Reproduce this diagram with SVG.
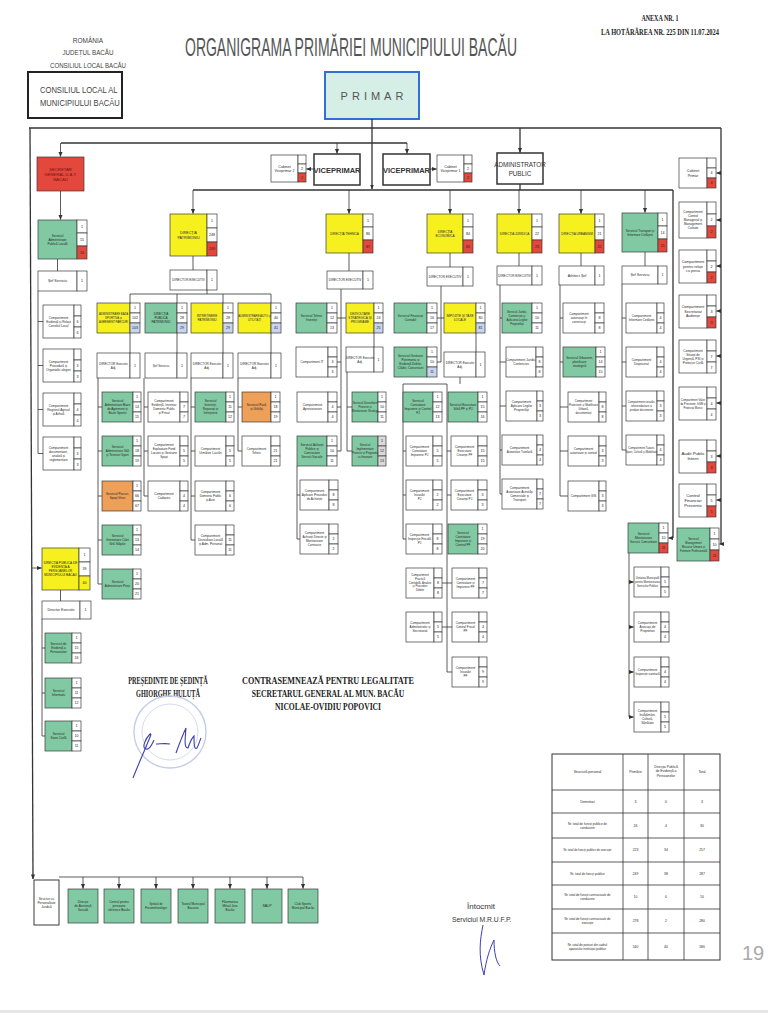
<svg xmlns="http://www.w3.org/2000/svg" width="768" height="1024" viewBox="0 0 768 1024">
<defs>
<marker id="a" viewBox="0 0 10 10" refX="9" refY="5" markerWidth="5" markerHeight="5" markerUnits="userSpaceOnUse" orient="auto"><path d="M0 1L10 5L0 9z" fill="#333"/></marker>
</defs>
<style>
.b{fill:#fff;stroke:#3a3a3a;stroke-width:.7}
.g{fill:#80c9a2;stroke:#3a3a3a;stroke-width:.7}
.y{fill:#f6f01f;stroke:#3a3a3a;stroke-width:.7}
.r{fill:#e4473c;stroke:#3a3a3a;stroke-width:.7}
.o{fill:#ee9f58;stroke:#3a3a3a;stroke-width:.7}
.lb{fill:#c8d5f1;stroke:#3a3a3a;stroke-width:.7}
.gr{fill:#d9d9d9;stroke:#3a3a3a;stroke-width:.7}
.t{font-family:"Liberation Sans",Arial,sans-serif;font-size:3.1px;fill:#2a2a2a;text-anchor:middle}
.t2{font-family:"Liberation Sans",Arial,sans-serif;font-size:3.6px;fill:#2a2a2a;text-anchor:middle}
.n{font-family:"Liberation Sans",Arial,sans-serif;font-size:3.6px;fill:#222;text-anchor:middle}
.c{fill:none;stroke:#333;stroke-width:.8}
.ca{fill:none;stroke:#333;stroke-width:.8;marker-end:url(#a)}
.k{fill:none;stroke:#333;stroke-width:1.3}
.ka{fill:none;stroke:#333;stroke-width:1.3;marker-end:url(#a)}
.hd{font-family:"Liberation Sans",Arial,sans-serif;fill:#444;text-anchor:middle}
.sf{font-family:"Liberation Serif","Times New Roman",serif;font-weight:bold;fill:#222;text-anchor:middle}
.bx{fill:#fff;stroke:#333;stroke-width:1.5}
</style>
<rect width="768" height="1024" fill="#fff"/>

<!-- header -->
<g id="header">
<text class="hd" x="88" y="43" font-size="6.5">ROMÂNIA</text>
<text class="hd" x="88" y="55" font-size="6.5" textLength="51" lengthAdjust="spacingAndGlyphs">JUDEȚUL BACĂU</text>
<text class="hd" x="88" y="68" font-size="6.5" textLength="76" lengthAdjust="spacingAndGlyphs">CONSILIUL LOCAL BACĂU</text>
<text transform="translate(185 56) scale(0.56 1)" x="0" y="0" font-family="Liberation Sans, Arial, sans-serif" font-size="25" fill="#555">ORGANIGRAMA PRIMĂRIEI MUNICIPIULUI BACĂU</text>
<text transform="translate(660 21) scale(0.8 1)" x="0" y="0" class="sf" font-size="7.5">ANEXA NR. 1</text>
<text transform="translate(660 35) scale(0.85 1)" x="0" y="0" class="sf" font-size="7.5">LA HOTĂRÂREA NR. 225 DIN 11.07.2024</text>
</g>

<g id="consiliul-local">
<rect x="28" y="72" width="94" height="46" fill="#fff" stroke="#222" stroke-width="2"/>
<text transform="translate(40 93) scale(0.8 1)" x="0" y="0" font-family="Liberation Sans, Arial, sans-serif" font-size="9.5" fill="#444">CONSILIUL LOCAL AL</text>
<text transform="translate(40 106) scale(0.8 1)" x="0" y="0" font-family="Liberation Sans, Arial, sans-serif" font-size="9.5" fill="#444">MUNICIPIULUI BACĂU</text>
</g>

<g id="primar">
<rect x="325" y="72" width="94" height="47" fill="#d5eee6" stroke="#2f6fd6" stroke-width="2"/>
<text x="374" y="100" font-family="Liberation Sans, Arial, sans-serif" font-size="11" fill="#555" text-anchor="middle" letter-spacing="4">PRIMAR</text>
</g>

<!-- connectors -->
<g id="connectors">
<path class="k" d="M29 128H721"/>
<path class="k" d="M372 119V128"/>
<path class="ka" d="M372 128V189"/>
<path class="ka" d="M30 128L33 879"/>
<path class="ca" d="M31.5 568H41.5"/>
<path class="k" d="M721 128V544"/>
<path class="ca" d="M721 173H716.5"/>
<path class="ca" d="M721 220H716.5"/>
<path class="ca" d="M721 266H716.5"/>
<path class="ca" d="M721 311H716.5"/>
<path class="ca" d="M721 356H716.5"/>
<path class="ca" d="M721 403H716.5"/>
<path class="ca" d="M721 456H716.5"/>
<path class="ca" d="M721 500H716.5"/>
<path class="ca" d="M721 544H719.5"/>
<path class="k" d="M61 143H407"/>
<path class="ca" d="M60.5 143V156.5"/>
<path class="ca" d="M337 143V153.5"/>
<path class="ca" d="M407 143V153.5"/>
<path class="ka" d="M520 128V152.5"/>
<path class="k" d="M193 190H673"/>
<path class="k" d="M520 184V190"/>
<path class="ca" d="M193 190V213.5"/>
<path class="ca" d="M349 190V213.5"/>
<path class="ca" d="M450 190V213.5"/>
<path class="ca" d="M519 190V213.5"/>
<path class="ca" d="M581 190V213.5"/>
<path class="ca" d="M645 190V212.5"/>
<path class="k" d="M673 190V538"/>
<path class="ca" d="M673 538H668.5"/>
<path class="ca" d="M314 169H306.5"/>
<path class="ca" d="M430 169H436.5"/>
<path class="ca" d="M60.5 191V219.5"/>
<path class="c" d="M57.5 259V271M38 291V453.5M38 321.5H43M38 365.5H43M38 409.5H43M38 453.5H43"/>
<path class="c" d="M60.5 590V601M42 619V736M42 648H45M42 693H45M42 736H45"/>
<path class="c" d="M193 256V270M207 290V294M130 294H271M130 294V303M177 294V303M223 294V303M271 294V303M130 333V353M177 333V353M223 333V353M271 333V353"/>
<path class="c" d="M98 378V584M98 407H102M98 451H102M98 496H102M98 540H102M98 584H102M144 378V496M144 407H148M144 451H148M144 496H148M191 378V540M191 407H195M191 451H195M191 496H195M191 540H195M238 378V451M238 407H242M238 451H242"/>
<path class="c" d="M349 253V271M341 289V451M337 318H346M337 362H341M337 407H341M337 451H341M374 333V347M347 372V451M347 407H352M347 451H352M297 466V539M297 495H300M297 539H300"/>
<path class="c" d="M450 253V267M441 286V362M437 318H444M437 362H441M476 333V352M460 377V384M403 384H447M403 384V539M403 451H406M403 495H406M403 539H406M447 384V672M447 451H451M447 495H451M447 583H452M447 627H452M447 672H452M442 583H447M442 627H447"/>
<path class="c" d="M519 253V266M500 285V494M500 318H502M500 362H506M500 406H506M500 450H502M500 494H502"/>
<path class="c" d="M581 253V266M560 285V496M560 318H563M560 362H563M560 407H568M560 451H568M560 496H568"/>
<path class="c" d="M645 252V266M622 284V450M622 318H626M622 362H626M622 406H626M622 450H626"/>
<path class="c" d="M629 553V717"/>
<path class="ca" d="M629 582H633.5"/>
<path class="ca" d="M629 627H633.5"/>
<path class="ca" d="M629 672H633.5"/>
<path class="ca" d="M629 717H633.5"/>
<path class="c" d="M59 877H303"/>
<path class="ca" d="M83 877V888.5"/>
<path class="ca" d="M119 877V888.5"/>
<path class="ca" d="M156 877V888.5"/>
<path class="ca" d="M193 877V888.5"/>
<path class="ca" d="M230 877V888.5"/>
<path class="ca" d="M267 877V888.5"/>
<path class="ca" d="M303 877V888.5"/>
</g>

<!-- top row -->
<g id="cabinet-viceprimar-2"><rect class="b" x="271" y="155" width="27" height="27"/><rect class="b" x="298" y="155" width="8" height="9"/><rect class="b" x="298" y="164" width="8" height="9"/><rect class="r" x="298" y="173" width="8" height="9"/><text class="t2" x="284.5" y="167.5">Cabinet<tspan x="284.5" dy="4.2">Viceprimar 2</tspan></text><text class="n" x="302" y="169.8">2</text><text class="n" x="302" y="178.8">2</text></g>
<g id="viceprimar-1"><rect class="bx" x="314" y="154" width="46" height="31"/><text x="337" y="172.5" font-family="Liberation Sans, Arial, sans-serif" font-size="7.5" font-weight="bold" fill="#333" text-anchor="middle">VICEPRIMAR</text></g>
<g id="viceprimar-2"><rect class="bx" x="383" y="154" width="47" height="31"/><text x="406.5" y="172.5" font-family="Liberation Sans, Arial, sans-serif" font-size="7.5" font-weight="bold" fill="#333" text-anchor="middle">VICEPRIMAR</text></g>
<g id="cabinet-viceprimar-1"><rect class="b" x="437" y="155" width="27" height="27"/><rect class="b" x="464" y="155" width="8" height="9"/><rect class="b" x="464" y="164" width="8" height="9"/><rect class="r" x="464" y="173" width="8" height="9"/><text class="t2" x="450.5" y="167.5">Cabinet<tspan x="450.5" dy="4.2">Viceprimar 1</tspan></text><text class="n" x="468" y="169.8">2</text><text class="n" x="468" y="178.8">2</text></g>
<g id="administrator-public"><rect class="bx" x="497" y="153" width="46" height="31"/><text x="520" y="166.5" font-family="Liberation Sans, Arial, sans-serif" font-size="6.3" fill="#333" text-anchor="middle">ADMINISTRATOR<tspan x="520" dy="9">PUBLIC</tspan></text></g>

<!-- Secretar general -->
<g id="secretar-general"><rect class="r" x="37" y="157" width="47" height="34"/><text class="t" style="font-size:4.2px;fill:#701515" x="60.5" y="170.5">SECRETAR<tspan x="60.5" dy="5">GENERAL U.A.T.</tspan><tspan x="60.5" dy="5">BACĂU</tspan></text></g>
<g id="serv-adm-publica-locala"><rect class="g" x="38" y="220" width="39" height="39"/><rect class="b" x="77" y="220" width="10" height="13"/><rect class="b" x="77" y="233" width="10" height="13"/><rect class="r" x="77" y="246" width="10" height="13"/><text class="t" x="57.5" y="236.7">Serviciul<tspan x="57.5" dy="4">Administrație</tspan><tspan x="57.5" dy="4">Publică Locală</tspan></text><text class="n" x="82" y="227.8">1</text><text class="n" x="82" y="240.8">15</text><text class="n" x="82" y="253.8">16</text></g>
<g id="sef-serviciu-sapl"><rect class="b" x="38" y="271" width="39" height="20"/><rect class="b" x="77" y="271" width="10" height="20"/><text class="t2" x="57.5" y="282.2">Șef Serviciu</text><text class="n" x="82" y="282.3">1</text></g>
<g id="comp-evidenta-relatii"><rect class="b" x="43" y="305" width="31" height="33"/><rect class="b" x="74" y="305" width="7" height="11"/><rect class="b" x="74" y="316" width="7" height="11"/><rect class="b" x="74" y="327" width="7" height="11"/><text class="t" x="58.5" y="318.7">Compartiment<tspan x="58.5" dy="4">Evidență și Relații</tspan><tspan x="58.5" dy="4">Consiliul Local</tspan></text><text class="n" x="77.5" y="322.8">6</text><text class="n" x="77.5" y="333.8">6</text></g>
<g id="comp-procedura-alegeri"><rect class="b" x="43" y="349" width="31" height="33"/><rect class="b" x="74" y="349" width="7" height="11"/><rect class="b" x="74" y="360" width="7" height="11"/><rect class="b" x="74" y="371" width="7" height="11"/><text class="t" x="58.5" y="362.7">Compartiment<tspan x="58.5" dy="4">Procedură și</tspan><tspan x="58.5" dy="4">Organizări alegeri</tspan></text><text class="n" x="77.5" y="366.8">3</text><text class="n" x="77.5" y="377.8">3</text></g>
<g id="comp-registrul-agricol"><rect class="b" x="43" y="393" width="31" height="33"/><rect class="b" x="74" y="393" width="7" height="11"/><rect class="b" x="74" y="404" width="7" height="11"/><rect class="b" x="74" y="415" width="7" height="11"/><text class="t" x="58.5" y="406.7">Compartiment<tspan x="58.5" dy="4">Registrul Agricol</tspan><tspan x="58.5" dy="4">și Arhivă</tspan></text><text class="n" x="77.5" y="410.8">4</text><text class="n" x="77.5" y="421.8">4</text></g>
<g id="comp-documentare"><rect class="b" x="43" y="437" width="31" height="33"/><rect class="b" x="74" y="437" width="7" height="11"/><rect class="b" x="74" y="448" width="7" height="11"/><rect class="b" x="74" y="459" width="7" height="11"/><text class="t" x="58.5" y="448.7">Compartiment<tspan x="58.5" dy="4">documentare,</tspan><tspan x="58.5" dy="4">analiză și</tspan><tspan x="58.5" dy="4">reglementare</tspan></text><text class="n" x="77.5" y="454.8">3</text><text class="n" x="77.5" y="465.8">3</text></g>

<!-- DPEP -->
<g id="directia-evidenta-persoane"><rect class="y" x="42" y="548" width="37" height="42"/><rect class="b" x="79" y="548" width="11" height="14"/><rect class="b" x="79" y="562" width="11" height="14"/><rect class="y" x="79" y="576" width="11" height="14"/><text class="t" x="60.5" y="564.2">DIRECȚIA PUBLICĂ DE<tspan x="60.5" dy="4">EVIDENȚĂ A</tspan><tspan x="60.5" dy="4">PERSOANELOR</tspan><tspan x="60.5" dy="4">MUNICIPIULUI BACĂU</tspan></text><text class="n" x="84.5" y="556.3">1</text><text class="n" x="84.5" y="570.3">39</text><text class="n" x="84.5" y="584.3">40</text></g>
<g id="director-executiv-dpep"><rect class="b" x="42" y="601" width="38" height="18"/><rect class="b" x="80" y="601" width="11" height="18"/><text class="t2" x="61" y="611.2">Director Executiv</text><text class="n" x="85.5" y="611.3">1</text></g>
<g id="serv-evidenta-persoane"><rect class="g" x="45" y="633" width="27" height="30"/><rect class="b" x="72" y="633" width="9" height="10"/><rect class="b" x="72" y="643" width="9" height="10"/><rect class="b" x="72" y="653" width="9" height="10"/><text class="t" x="58.5" y="645.2">Serviciul de<tspan x="58.5" dy="4">Evidență a</tspan><tspan x="58.5" dy="4">Persoanelor</tspan></text><text class="n" x="76.5" y="639.3">1</text><text class="n" x="76.5" y="649.3">15</text><text class="n" x="76.5" y="659.3">16</text></g>
<g id="serv-informatic"><rect class="g" x="45" y="678" width="27" height="30"/><rect class="b" x="72" y="678" width="9" height="10"/><rect class="b" x="72" y="688" width="9" height="10"/><rect class="b" x="72" y="698" width="9" height="10"/><text class="t" x="58.5" y="692.2">Serviciul<tspan x="58.5" dy="4">Informatic</tspan></text><text class="n" x="76.5" y="684.3">1</text><text class="n" x="76.5" y="694.3">11</text><text class="n" x="76.5" y="704.3">12</text></g>
<g id="serv-stare-civila"><rect class="g" x="45" y="721" width="27" height="30"/><rect class="b" x="72" y="721" width="9" height="10"/><rect class="b" x="72" y="731" width="9" height="10"/><rect class="b" x="72" y="741" width="9" height="10"/><text class="t" x="58.5" y="735.2">Serviciul<tspan x="58.5" dy="4">Stare Civilă</tspan></text><text class="n" x="76.5" y="727.3">1</text><text class="n" x="76.5" y="737.3">10</text><text class="n" x="76.5" y="747.3">11</text></g>

<!-- Patrimoniu -->
<g id="directia-patrimoniu"><rect class="y" x="170" y="214" width="37" height="42"/><rect class="b" x="207" y="214" width="10" height="14"/><rect class="b" x="207" y="228" width="10" height="14"/><rect class="r" x="207" y="242" width="10" height="14"/><text class="t2" x="188.5" y="234">DIRECȚIA<tspan x="188.5" dy="4.5">PATRIMONIU</tspan></text><text class="n" x="212" y="222.3">1</text><text class="n" x="212" y="236.3">248</text><text class="n" x="212" y="250.3">249</text></g>
<g id="director-executiv-patrimoniu"><rect class="b" x="170" y="270" width="37" height="20"/><rect class="b" x="207" y="270" width="10" height="20"/><text class="t" x="188.5" y="281.2">DIRECTOR EXECUTIV</text><text class="n" x="212" y="281.3">1</text></g>
<g id="adm-baza-sportiva"><rect class="y" x="97" y="303" width="33" height="30"/><rect class="b" x="130" y="303" width="10" height="10"/><rect class="b" x="130" y="313" width="10" height="10"/><rect class="lb" x="130" y="323" width="10" height="10"/><text class="t" style="font-size:2.8px" x="113.5" y="315.2">ADMINISTRARE BAZĂ<tspan x="113.5" dy="4">SPORTIVĂ și</tspan><tspan x="113.5" dy="4">AGREMENT PARCURI</tspan></text><text class="n" x="135" y="309.3">1</text><text class="n" x="135" y="319.3">102</text><text class="n" x="135" y="329.3">103</text></g>
<g id="directia-publica-patrimoniu"><rect class="g" x="145" y="303" width="32" height="30"/><rect class="b" x="177" y="303" width="10" height="10"/><rect class="b" x="177" y="313" width="10" height="10"/><rect class="lb" x="177" y="323" width="10" height="10"/><text class="t" x="161" y="315.2">DIRECȚIA<tspan x="161" dy="4">PUBLICĂ</tspan><tspan x="161" dy="4">PATRIMONIU</tspan></text><text class="n" x="182" y="309.3">1</text><text class="n" x="182" y="319.3">28</text><text class="n" x="182" y="329.3">29</text></g>
<g id="intretinere-patrimoniu"><rect class="y" x="191" y="303" width="32" height="30"/><rect class="b" x="223" y="303" width="10" height="10"/><rect class="b" x="223" y="313" width="10" height="10"/><rect class="lb" x="223" y="323" width="10" height="10"/><text class="t" x="207" y="317.2">ÎNTREȚINERE<tspan x="207" dy="4">PATRIMONIU</tspan></text><text class="n" x="228" y="309.3">1</text><text class="n" x="228" y="319.3">28</text><text class="n" x="228" y="329.3">29</text></g>
<g id="administrare-auto-utilitati"><rect class="y" x="238" y="303" width="33" height="30"/><rect class="b" x="271" y="303" width="10" height="10"/><rect class="b" x="271" y="313" width="10" height="10"/><rect class="lb" x="271" y="323" width="10" height="10"/><text class="t" style="font-size:2.8px" x="254.5" y="317.2">ADMINISTRARE AUTO și<tspan x="254.5" dy="4">UTILITĂȚI</tspan></text><text class="n" x="276" y="309.3">1</text><text class="n" x="276" y="319.3">40</text><text class="n" x="276" y="329.3">41</text></g>
<g id="dir-adj-baza-sportiva"><rect class="b" x="97" y="353" width="33" height="25"/><rect class="b" x="130" y="353" width="10" height="25"/><text class="t" x="113.5" y="364.7">DIRECTOR Executiv<tspan x="113.5" dy="4">Adj.</tspan></text><text class="n" x="135" y="366.8">1</text></g>
<g id="sef-serviciu-patrimoniu"><rect class="b" x="145" y="353" width="32" height="25"/><rect class="b" x="177" y="353" width="10" height="25"/><text class="t" x="161" y="366.7">Șef Serviciu</text><text class="n" x="182" y="366.8">1</text></g>
<g id="dir-adj-intretinere"><rect class="b" x="191" y="353" width="32" height="25"/><rect class="b" x="223" y="353" width="10" height="25"/><text class="t" x="207" y="364.7">DIRECTOR Executiv<tspan x="207" dy="4">Adj.</tspan></text><text class="n" x="228" y="366.8">1</text></g>
<g id="dir-adj-auto"><rect class="b" x="238" y="353" width="33" height="25"/><rect class="b" x="271" y="353" width="10" height="25"/><text class="t" x="254.5" y="364.7">DIRECTOR Executiv<tspan x="254.5" dy="4">Adj.</tspan></text><text class="n" x="276" y="366.8">1</text></g>

<g id="serv-baze-agrement"><rect class="g" x="102" y="392" width="31" height="30"/><rect class="b" x="133" y="392" width="8" height="10"/><rect class="b" x="133" y="402" width="8" height="10"/><rect class="b" x="133" y="412" width="8" height="10"/><text class="t" x="117.5" y="402.2">Serviciul<tspan x="117.5" dy="4">Administrare Baze</tspan><tspan x="117.5" dy="4">de Agrement și</tspan><tspan x="117.5" dy="4">Bazin Sportiv</tspan></text><text class="n" x="137" y="398.3">1</text><text class="n" x="137" y="408.3">14</text><text class="n" x="137" y="418.3">15</text></g>
<g id="serv-sali-terenuri"><rect class="g" x="102" y="436" width="31" height="30"/><rect class="b" x="133" y="436" width="8" height="10"/><rect class="b" x="133" y="446" width="8" height="10"/><rect class="b" x="133" y="456" width="8" height="10"/><text class="t" x="117.5" y="448.2">Serviciul<tspan x="117.5" dy="4">Administrare Săli</tspan><tspan x="117.5" dy="4">și Terenuri Sport</tspan></text><text class="n" x="137" y="442.3">1</text><text class="n" x="137" y="452.3">18</text><text class="n" x="137" y="462.3">19</text></g>
<g id="serv-parcuri"><rect class="o" x="102" y="481" width="31" height="30"/><rect class="b" x="133" y="481" width="8" height="10"/><rect class="b" x="133" y="491" width="8" height="10"/><rect class="b" x="133" y="501" width="8" height="10"/><text class="t" x="117.5" y="495.2">Serviciul Parcuri,<tspan x="117.5" dy="4">Spații Verzi</tspan></text><text class="n" x="137" y="487.3">1</text><text class="n" x="137" y="497.3">66</text><text class="n" x="137" y="507.3">67</text></g>
<g id="serv-caini"><rect class="g" x="102" y="525" width="31" height="30"/><rect class="b" x="133" y="525" width="8" height="10"/><rect class="b" x="133" y="535" width="8" height="10"/><rect class="b" x="133" y="545" width="8" height="10"/><text class="t" x="117.5" y="537.2">Serviciul<tspan x="117.5" dy="4">Gestionare Câini</tspan><tspan x="117.5" dy="4">fără Stăpân</tspan></text><text class="n" x="137" y="531.3">1</text><text class="n" x="137" y="541.3">13</text><text class="n" x="137" y="551.3">14</text></g>
<g id="serv-piete"><rect class="g" x="102" y="569" width="31" height="30"/><rect class="b" x="133" y="569" width="8" height="10"/><rect class="b" x="133" y="579" width="8" height="10"/><rect class="b" x="133" y="589" width="8" height="10"/><text class="t" x="117.5" y="583.2">Serviciul<tspan x="117.5" dy="4">Administrare Piețe</tspan></text><text class="n" x="137" y="575.3">1</text><text class="n" x="137" y="585.3">20</text><text class="n" x="137" y="595.3">21</text></g>

<g id="comp-evidenta-inventar"><rect class="b" x="148" y="392" width="32" height="30"/><rect class="b" x="180" y="392" width="8" height="10"/><rect class="b" x="180" y="402" width="8" height="10"/><rect class="b" x="180" y="412" width="8" height="10"/><text class="t" x="164" y="402.2">Compartiment<tspan x="164" dy="4">Evidență, Inventar</tspan><tspan x="164" dy="4">Domeniu Public</tspan><tspan x="164" dy="4">și Privat</tspan></text><text class="n" x="184" y="408.3">7</text><text class="n" x="184" y="418.3">7</text></g>
<g id="comp-fond-locativ"><rect class="b" x="148" y="436" width="32" height="30"/><rect class="b" x="180" y="436" width="8" height="10"/><rect class="b" x="180" y="446" width="8" height="10"/><rect class="b" x="180" y="456" width="8" height="10"/><text class="t" x="164" y="446.2">Compartiment<tspan x="164" dy="4">Exploatare Fond</tspan><tspan x="164" dy="4">Locativ și Gestiune</tspan><tspan x="164" dy="4">Spații</tspan></text><text class="n" x="184" y="452.3">5</text><text class="n" x="184" y="462.3">5</text></g>
<g id="comp-cadastru"><rect class="b" x="148" y="481" width="32" height="30"/><rect class="b" x="180" y="481" width="8" height="10"/><rect class="b" x="180" y="491" width="8" height="10"/><rect class="b" x="180" y="501" width="8" height="10"/><text class="t" x="164" y="495.2">Compartiment<tspan x="164" dy="4">Cadastru</tspan></text><text class="n" x="184" y="497.3">4</text><text class="n" x="184" y="507.3">4</text></g>

<g id="serv-investitii-reparatii"><rect class="g" x="195" y="392" width="31" height="30"/><rect class="b" x="226" y="392" width="8" height="10"/><rect class="b" x="226" y="402" width="8" height="10"/><rect class="b" x="226" y="412" width="8" height="10"/><text class="t" x="210.5" y="402.2">Serviciul<tspan x="210.5" dy="4">Investiții,</tspan><tspan x="210.5" dy="4">Reparații și</tspan><tspan x="210.5" dy="4">Întreținere</tspan></text><text class="n" x="230" y="398.3">1</text><text class="n" x="230" y="408.3">11</text><text class="n" x="230" y="418.3">12</text></g>
<g id="comp-urmarire-lucrari"><rect class="b" x="195" y="436" width="31" height="30"/><rect class="b" x="226" y="436" width="8" height="10"/><rect class="b" x="226" y="446" width="8" height="10"/><rect class="b" x="226" y="456" width="8" height="10"/><text class="t" x="210.5" y="450.2">Compartiment<tspan x="210.5" dy="4">Urmărire Lucrări</tspan></text><text class="n" x="230" y="452.3">5</text><text class="n" x="230" y="462.3">5</text></g>
<g id="comp-domeniu-public"><rect class="b" x="195" y="481" width="31" height="30"/><rect class="b" x="226" y="481" width="8" height="10"/><rect class="b" x="226" y="491" width="8" height="10"/><rect class="b" x="226" y="501" width="8" height="10"/><text class="t" x="210.5" y="493.2">Compartiment<tspan x="210.5" dy="4">Domeniu Public</tspan><tspan x="210.5" dy="4">și Acte</tspan></text><text class="n" x="230" y="497.3">6</text><text class="n" x="230" y="507.3">6</text></g>
<g id="comp-dezvoltare-locala"><rect class="b" x="195" y="525" width="31" height="30"/><rect class="b" x="226" y="525" width="8" height="10"/><rect class="b" x="226" y="535" width="8" height="10"/><rect class="b" x="226" y="545" width="8" height="10"/><text class="t" x="210.5" y="537.2">Compartiment<tspan x="210.5" dy="4">Dezvoltare Locală</tspan><tspan x="210.5" dy="4">și Adm. Personal</tspan></text><text class="n" x="230" y="541.3">11</text><text class="n" x="230" y="551.3">11</text></g>

<g id="serv-paza-utilitati"><rect class="o" x="242" y="392" width="29" height="30"/><rect class="b" x="271" y="392" width="9" height="10"/><rect class="b" x="271" y="402" width="9" height="10"/><rect class="b" x="271" y="412" width="9" height="10"/><text class="t" x="256.5" y="406.2">Serviciul Pază<tspan x="256.5" dy="4">și Utilități</tspan></text><text class="n" x="275.5" y="398.3">1</text><text class="n" x="275.5" y="408.3">18</text><text class="n" x="275.5" y="418.3">19</text></g>
<g id="comp-tehnic"><rect class="b" x="242" y="436" width="29" height="30"/><rect class="b" x="271" y="436" width="9" height="10"/><rect class="b" x="271" y="446" width="9" height="10"/><rect class="b" x="271" y="456" width="9" height="10"/><text class="t" x="256.5" y="450.2">Compartiment<tspan x="256.5" dy="4">Tehnic</tspan></text><text class="n" x="275.5" y="452.3">21</text><text class="n" x="275.5" y="462.3">21</text></g>

<!-- Tehnica -->
<g id="directia-tehnica"><rect class="y" x="326" y="214" width="37" height="39"/><rect class="b" x="363" y="214" width="10" height="13"/><rect class="b" x="363" y="227" width="10" height="13"/><rect class="r" x="363" y="240" width="10" height="13"/><text class="t" x="344.5" y="234.7">DIRECȚIA TEHNICĂ</text><text class="n" x="368" y="221.8">1</text><text class="n" x="368" y="234.8">86</text><text class="n" x="368" y="247.8">87</text></g>
<g id="director-executiv-tehnica"><rect class="b" x="327" y="271" width="36" height="18"/><rect class="b" x="363" y="271" width="10" height="18"/><text class="t" x="345" y="281.2">DIRECTOR EXECUTIV</text><text class="n" x="368" y="281.3">1</text></g>
<g id="serv-tehnic-investitii"><rect class="g" x="296" y="303" width="31" height="30"/><rect class="b" x="327" y="303" width="10" height="10"/><rect class="b" x="327" y="313" width="10" height="10"/><rect class="b" x="327" y="323" width="10" height="10"/><text class="t" x="311.5" y="317.2">Serviciul Tehnic<tspan x="311.5" dy="4">Investiții</tspan></text><text class="n" x="332" y="309.3">1</text><text class="n" x="332" y="319.3">12</text><text class="n" x="332" y="329.3">13</text></g>
<g id="dezvoltare-strategica"><rect class="y" x="346" y="303" width="28" height="30"/><rect class="b" x="374" y="303" width="9" height="10"/><rect class="b" x="374" y="313" width="9" height="10"/><rect class="lb" x="374" y="323" width="9" height="10"/><text class="t" x="360" y="315.2">DEZVOLTARE<tspan x="360" dy="4">STRATEGICĂ ȘI</tspan><tspan x="360" dy="4">PROGRAME</tspan></text><text class="n" x="378.5" y="309.3">1</text><text class="n" x="378.5" y="319.3">24</text><text class="n" x="378.5" y="329.3">25</text></g>
<g id="comp-it"><rect class="b" x="296" y="347" width="32" height="30"/><rect class="b" x="328" y="347" width="9" height="10"/><rect class="b" x="328" y="357" width="9" height="10"/><rect class="b" x="328" y="367" width="9" height="10"/><text class="t" x="312" y="363.2">Compartiment IT</text><text class="n" x="332.5" y="363.3">3</text><text class="n" x="332.5" y="373.3">3</text></g>
<g id="dir-adj-dezvoltare"><rect class="b" x="346" y="347" width="28" height="25"/><rect class="b" x="374" y="347" width="9" height="25"/><text class="t" x="360" y="358.7">DIRECTOR Executiv<tspan x="360" dy="4">Adj.</tspan></text><text class="n" x="378.5" y="360.8">1</text></g>
<g id="comp-aprovizionare"><rect class="b" x="297" y="392" width="31" height="30"/><rect class="b" x="328" y="392" width="9" height="10"/><rect class="b" x="328" y="402" width="9" height="10"/><rect class="b" x="328" y="412" width="9" height="10"/><text class="t" x="312.5" y="406.2">Compartiment<tspan x="312.5" dy="4">Aprovizionare</tspan></text><text class="n" x="332.5" y="408.3">4</text><text class="n" x="332.5" y="418.3">4</text></g>
<g id="serv-dezvoltare-proiecte"><rect class="g" x="352" y="392" width="26" height="30"/><rect class="b" x="378" y="392" width="8" height="10"/><rect class="b" x="378" y="402" width="8" height="10"/><rect class="b" x="378" y="412" width="8" height="10"/><text class="t" style="font-size:2.8px" x="365" y="404.2">Serviciul Dezvoltare<tspan x="365" dy="4">Proiecte și</tspan><tspan x="365" dy="4">Monitorizare Strategii</tspan></text><text class="n" x="382" y="398.3">1</text><text class="n" x="382" y="408.3">10</text><text class="n" x="382" y="418.3">11</text></g>
<g id="serv-implementare-proiecte"><rect class="g" x="352" y="436" width="26" height="30"/><rect class="gr" x="378" y="436" width="8" height="10"/><rect class="gr" x="378" y="446" width="8" height="10"/><rect class="gr" x="378" y="456" width="8" height="10"/><text class="t" style="font-size:2.8px" x="365" y="446.2">Serviciul<tspan x="365" dy="4">Implementare</tspan><tspan x="365" dy="4">Proiecte și Programe</tspan><tspan x="365" dy="4">cu finanțare</tspan></text><text class="n" x="382" y="442.3">1</text><text class="n" x="382" y="452.3">12</text><text class="n" x="382" y="462.3">13</text></g>
<g id="serv-achizitii-publice"><rect class="g" x="297" y="436" width="30" height="30"/><rect class="b" x="327" y="436" width="10" height="10"/><rect class="b" x="327" y="446" width="10" height="10"/><rect class="b" x="327" y="456" width="10" height="10"/><text class="t" x="312" y="446.2">Serviciul Achiziții<tspan x="312" dy="4">Publice și</tspan><tspan x="312" dy="4">Contractare</tspan><tspan x="312" dy="4">Servicii Sociale</tspan></text><text class="n" x="332" y="442.3">1</text><text class="n" x="332" y="452.3">10</text><text class="n" x="332" y="462.3">11</text></g>
<g id="comp-aplicare-proceduri"><rect class="b" x="300" y="480" width="29" height="30"/><rect class="b" x="329" y="480" width="9" height="10"/><rect class="b" x="329" y="490" width="9" height="10"/><rect class="b" x="329" y="500" width="9" height="10"/><text class="t" x="314.5" y="492.2">Compartiment<tspan x="314.5" dy="4">Aplicare Proceduri</tspan><tspan x="314.5" dy="4">de Achiziție</tspan></text><text class="n" x="333.5" y="496.3">8</text><text class="n" x="333.5" y="506.3">8</text></g>
<g id="comp-achizitii-directe"><rect class="b" x="300" y="524" width="29" height="30"/><rect class="b" x="329" y="524" width="9" height="10"/><rect class="b" x="329" y="534" width="9" height="10"/><rect class="b" x="329" y="544" width="9" height="10"/><text class="t" x="314.5" y="534.2">Compartiment<tspan x="314.5" dy="4">Achiziții Directe și</tspan><tspan x="314.5" dy="4">Monitorizare</tspan><tspan x="314.5" dy="4">Contracte</tspan></text><text class="n" x="333.5" y="540.3">2</text><text class="n" x="333.5" y="550.3">2</text></g>

<!-- Economica -->
<g id="directia-economica"><rect class="y" x="427" y="214" width="36" height="39"/><rect class="b" x="463" y="214" width="10" height="13"/><rect class="b" x="463" y="227" width="10" height="13"/><rect class="r" x="463" y="240" width="10" height="13"/><text class="t" x="445" y="232.7">DIRECȚIA<tspan x="445" dy="4">ECONOMICĂ</tspan></text><text class="n" x="468" y="221.8">1</text><text class="n" x="468" y="234.8">84</text><text class="n" x="468" y="247.8">85</text></g>
<g id="director-executiv-economica"><rect class="b" x="427" y="267" width="36" height="19"/><rect class="b" x="463" y="267" width="10" height="19"/><text class="t" x="445" y="277.7">DIRECTOR EXECUTIV</text><text class="n" x="468" y="277.8">1</text></g>
<g id="serv-financiar-contabil"><rect class="g" x="394" y="303" width="33" height="30"/><rect class="b" x="427" y="303" width="10" height="10"/><rect class="b" x="427" y="313" width="10" height="10"/><rect class="b" x="427" y="323" width="10" height="10"/><text class="t" x="410.5" y="317.2">Serviciul Financiar<tspan x="410.5" dy="4">Contabil</tspan></text><text class="n" x="432" y="309.3">1</text><text class="n" x="432" y="319.3">16</text><text class="n" x="432" y="329.3">17</text></g>
<g id="impozite-taxe-locale"><rect class="y" x="444" y="303" width="32" height="30"/><rect class="b" x="476" y="303" width="9" height="10"/><rect class="b" x="476" y="313" width="9" height="10"/><rect class="lb" x="476" y="323" width="9" height="10"/><text class="t" x="460" y="317.2">IMPOZITE ȘI TAXE<tspan x="460" dy="4">LOCALE</tspan></text><text class="n" x="480.5" y="309.3">1</text><text class="n" x="480.5" y="319.3">80</text><text class="n" x="480.5" y="329.3">81</text></g>
<g id="serv-gestiune-patrimoniu"><rect class="g" x="394" y="347" width="33" height="30"/><rect class="b" x="427" y="347" width="10" height="10"/><rect class="b" x="427" y="357" width="10" height="10"/><rect class="lb" x="427" y="367" width="10" height="10"/><text class="t" x="410.5" y="357.2">Serviciul Gestiune<tspan x="410.5" dy="4">Patrimoniu și</tspan><tspan x="410.5" dy="4">Evidență Debite,</tspan><tspan x="410.5" dy="4">Clădiri, Concesiuni</tspan></text><text class="n" x="432" y="353.3">1</text><text class="n" x="432" y="363.3">10</text><text class="n" x="432" y="373.3">11</text></g>
<g id="dir-adj-impozite"><rect class="b" x="444" y="352" width="32" height="25"/><rect class="b" x="476" y="352" width="9" height="25"/><text class="t" x="460" y="363.7">DIRECTOR Executiv<tspan x="460" dy="4">Adj.</tspan></text><text class="n" x="480.5" y="365.8">1</text></g>
<g id="serv-constatare-pj"><rect class="g" x="403" y="392" width="30" height="30"/><rect class="b" x="433" y="392" width="9" height="10"/><rect class="b" x="433" y="402" width="9" height="10"/><rect class="b" x="433" y="412" width="9" height="10"/><text class="t" x="418" y="402.2">Serviciul<tspan x="418" dy="4">Constatare</tspan><tspan x="418" dy="4">Impunere și Control</tspan><tspan x="418" dy="4">PJ</tspan></text><text class="n" x="437.5" y="398.3">1</text><text class="n" x="437.5" y="408.3">12</text><text class="n" x="437.5" y="418.3">13</text></g>
<g id="comp-constatare-pj"><rect class="b" x="406" y="436" width="27" height="30"/><rect class="b" x="433" y="436" width="9" height="10"/><rect class="b" x="433" y="446" width="9" height="10"/><rect class="b" x="433" y="456" width="9" height="10"/><text class="t" x="419.5" y="448.2">Compartiment<tspan x="419.5" dy="4">Constatare</tspan><tspan x="419.5" dy="4">Impunere PJ</tspan></text><text class="n" x="437.5" y="452.3">5</text><text class="n" x="437.5" y="462.3">5</text></g>
<g id="comp-incasari-pj"><rect class="b" x="406" y="480" width="27" height="30"/><rect class="b" x="433" y="480" width="9" height="10"/><rect class="b" x="433" y="490" width="9" height="10"/><rect class="b" x="433" y="500" width="9" height="10"/><text class="t" x="419.5" y="492.2">Compartiment<tspan x="419.5" dy="4">Încasări</tspan><tspan x="419.5" dy="4">PJ</tspan></text><text class="n" x="437.5" y="496.3">2</text><text class="n" x="437.5" y="506.3">2</text></g>
<g id="comp-inspectie-fiscala-pj"><rect class="b" x="406" y="524" width="27" height="30"/><rect class="b" x="433" y="524" width="9" height="10"/><rect class="b" x="433" y="534" width="9" height="10"/><rect class="b" x="433" y="544" width="9" height="10"/><text class="t" x="419.5" y="536.2">Compartiment<tspan x="419.5" dy="4">Inspecție Fiscală</tspan><tspan x="419.5" dy="4">PJ</tspan></text><text class="n" x="437.5" y="540.3">8</text><text class="n" x="437.5" y="550.3">8</text></g>
<g id="comp-practica-contabila"><rect class="b" x="406" y="568" width="28" height="30"/><rect class="b" x="434" y="568" width="8" height="10"/><rect class="b" x="434" y="578" width="8" height="10"/><rect class="b" x="434" y="588" width="8" height="10"/><text class="t" style="font-size:2.8px" x="420" y="576.4">Compartiment<tspan x="420" dy="3.6">Practică</tspan><tspan x="420" dy="3.6">Contabilă, Analize</tspan><tspan x="420" dy="3.6">și Proceduri</tspan><tspan x="420" dy="3.6">Debite</tspan></text><text class="n" x="438" y="584.3">8</text><text class="n" x="438" y="594.3">8</text></g>
<g id="comp-administrativ-secretariat"><rect class="b" x="406" y="612" width="28" height="30"/><rect class="b" x="434" y="612" width="8" height="10"/><rect class="b" x="434" y="622" width="8" height="10"/><rect class="b" x="434" y="632" width="8" height="10"/><text class="t" x="420" y="624.2">Compartiment<tspan x="420" dy="4">Administrativ și</tspan><tspan x="420" dy="4">Secretariat</tspan></text><text class="n" x="438" y="628.3">5</text><text class="n" x="438" y="638.3">5</text></g>
<g id="serv-executare-silita"><rect class="g" x="448" y="392" width="30" height="30"/><rect class="b" x="478" y="392" width="9" height="10"/><rect class="b" x="478" y="402" width="9" height="10"/><rect class="b" x="478" y="412" width="9" height="10"/><text class="t" x="463" y="406.2">Serviciul Executare<tspan x="463" dy="4">Silită PF și PJ</tspan></text><text class="n" x="482.5" y="398.3">1</text><text class="n" x="482.5" y="408.3">15</text><text class="n" x="482.5" y="418.3">16</text></g>
<g id="comp-executare-pf"><rect class="b" x="451" y="436" width="27" height="30"/><rect class="b" x="478" y="436" width="9" height="10"/><rect class="b" x="478" y="446" width="9" height="10"/><rect class="b" x="478" y="456" width="9" height="10"/><text class="t" x="464.5" y="448.2">Compartiment<tspan x="464.5" dy="4">Executare</tspan><tspan x="464.5" dy="4">Creanțe PF</tspan></text><text class="n" x="482.5" y="452.3">15</text><text class="n" x="482.5" y="462.3">15</text></g>
<g id="comp-executare-pj"><rect class="b" x="451" y="480" width="27" height="30"/><rect class="b" x="478" y="480" width="9" height="10"/><rect class="b" x="478" y="490" width="9" height="10"/><rect class="b" x="478" y="500" width="9" height="10"/><text class="t" x="464.5" y="492.2">Compartiment<tspan x="464.5" dy="4">Executare</tspan><tspan x="464.5" dy="4">Creanțe PJ</tspan></text><text class="n" x="482.5" y="496.3">3</text><text class="n" x="482.5" y="506.3">3</text></g>
<g id="serv-constatare-pf"><rect class="g" x="448" y="524" width="30" height="30"/><rect class="b" x="478" y="524" width="9" height="10"/><rect class="b" x="478" y="534" width="9" height="10"/><rect class="b" x="478" y="544" width="9" height="10"/><text class="t" x="463" y="534.2">Serviciul<tspan x="463" dy="4">Constatare</tspan><tspan x="463" dy="4">Impunere și</tspan><tspan x="463" dy="4">Control PF</tspan></text><text class="n" x="482.5" y="530.3">1</text><text class="n" x="482.5" y="540.3">19</text><text class="n" x="482.5" y="550.3">20</text></g>
<g id="comp-constatare-pf"><rect class="b" x="452" y="568" width="27" height="30"/><rect class="b" x="479" y="568" width="8" height="10"/><rect class="b" x="479" y="578" width="8" height="10"/><rect class="b" x="479" y="588" width="8" height="10"/><text class="t" x="465.5" y="580.2">Compartiment<tspan x="465.5" dy="4">Constatare și</tspan><tspan x="465.5" dy="4">Impunere PF</tspan></text><text class="n" x="483" y="584.3">7</text><text class="n" x="483" y="594.3">7</text></g>
<g id="comp-control-fiscal-pf"><rect class="b" x="452" y="612" width="27" height="30"/><rect class="b" x="479" y="612" width="8" height="10"/><rect class="b" x="479" y="622" width="8" height="10"/><rect class="b" x="479" y="632" width="8" height="10"/><text class="t" x="465.5" y="624.2">Compartiment<tspan x="465.5" dy="4">Control Fiscal</tspan><tspan x="465.5" dy="4">PF</tspan></text><text class="n" x="483" y="628.3">4</text><text class="n" x="483" y="638.3">4</text></g>
<g id="comp-incasari-pf"><rect class="b" x="452" y="657" width="27" height="30"/><rect class="b" x="479" y="657" width="8" height="10"/><rect class="b" x="479" y="667" width="8" height="10"/><rect class="b" x="479" y="677" width="8" height="10"/><text class="t" x="465.5" y="669.2">Compartiment<tspan x="465.5" dy="4">Încasări</tspan><tspan x="465.5" dy="4">PF</tspan></text><text class="n" x="483" y="673.3">9</text><text class="n" x="483" y="683.3">9</text></g>

<!-- Juridica -->
<g id="directia-juridica"><rect class="y" x="497" y="214" width="35" height="39"/><rect class="b" x="532" y="214" width="10" height="13"/><rect class="b" x="532" y="227" width="10" height="13"/><rect class="r" x="532" y="240" width="10" height="13"/><text class="t" x="514.5" y="234.7">DIRECȚIA JURIDICĂ</text><text class="n" x="537" y="221.8">1</text><text class="n" x="537" y="234.8">22</text><text class="n" x="537" y="247.8">23</text></g>
<g id="director-executiv-juridica"><rect class="b" x="497" y="266" width="35" height="19"/><rect class="b" x="532" y="266" width="10" height="19"/><text class="t" x="514.5" y="276.7">DIRECTOR EXECUTIV</text><text class="n" x="537" y="276.8">1</text></g>
<g id="serv-juridic-contencios"><rect class="g" x="502" y="303" width="30" height="30"/><rect class="b" x="532" y="303" width="10" height="10"/><rect class="b" x="532" y="313" width="10" height="10"/><rect class="b" x="532" y="323" width="10" height="10"/><text class="t" style="font-size:2.8px" x="517" y="313.2">Serviciul Juridic,<tspan x="517" dy="4">Contencios și</tspan><tspan x="517" dy="4">Aplicarea Legilor</tspan><tspan x="517" dy="4">Proprietății</tspan></text><text class="n" x="537" y="309.3">1</text><text class="n" x="537" y="319.3">10</text><text class="n" x="537" y="329.3">11</text></g>
<g id="comp-juridic-contencios"><rect class="b" x="506" y="347" width="30" height="30"/><rect class="b" x="536" y="347" width="7" height="10"/><rect class="b" x="536" y="357" width="7" height="10"/><rect class="b" x="536" y="367" width="7" height="10"/><text class="t" x="521" y="361.2">Compartiment Juridic,<tspan x="521" dy="4">Contencios</tspan></text><text class="n" x="539.5" y="363.3">8</text><text class="n" x="539.5" y="373.3">8</text></g>
<g id="comp-aplicare-legi"><rect class="b" x="506" y="391" width="31" height="30"/><rect class="b" x="537" y="391" width="6" height="10"/><rect class="b" x="537" y="401" width="6" height="10"/><rect class="b" x="537" y="411" width="6" height="10"/><text class="t" x="521.5" y="403.2">Compartiment<tspan x="521.5" dy="4">Aplicare Legilor</tspan><tspan x="521.5" dy="4">Proprietății</tspan></text><text class="n" x="540" y="407.3">3</text><text class="n" x="540" y="417.3">3</text></g>
<g id="comp-autoritate-tutelara"><rect class="b" x="502" y="435" width="35" height="30"/><rect class="b" x="537" y="435" width="6" height="10"/><rect class="b" x="537" y="445" width="6" height="10"/><rect class="b" x="537" y="455" width="6" height="10"/><text class="t" x="519.5" y="449.2">Compartiment<tspan x="519.5" dy="4">Autoritate Tutelară</tspan></text><text class="n" x="540" y="451.3">4</text><text class="n" x="540" y="461.3">4</text></g>
<g id="comp-autorizare-activitati"><rect class="b" x="502" y="479" width="35" height="30"/><rect class="b" x="537" y="479" width="6" height="10"/><rect class="b" x="537" y="489" width="6" height="10"/><rect class="b" x="537" y="499" width="6" height="10"/><text class="t" x="519.5" y="489.2">Compartiment<tspan x="519.5" dy="4">Autorizare Activități</tspan><tspan x="519.5" dy="4">Comerciale și</tspan><tspan x="519.5" dy="4">Transport</tspan></text><text class="n" x="540" y="495.3">7</text><text class="n" x="540" y="505.3">7</text></g>

<!-- Urbanism -->
<g id="directia-urbanism"><rect class="y" x="559" y="214" width="36" height="39"/><rect class="b" x="595" y="214" width="9" height="13"/><rect class="b" x="595" y="227" width="9" height="13"/><rect class="r" x="595" y="240" width="9" height="13"/><text class="t" x="577" y="234.7">DIRECȚIA URBANISM</text><text class="n" x="599.5" y="221.8">1</text><text class="n" x="599.5" y="234.8">21</text><text class="n" x="599.5" y="247.8">22</text></g>
<g id="arhitect-sef"><rect class="b" x="559" y="266" width="36" height="19"/><rect class="b" x="595" y="266" width="9" height="19"/><text class="t2" x="577" y="276.7">Arhitect Șef</text><text class="n" x="599.5" y="276.8">1</text></g>
<g id="comp-autorizatii-constructii"><rect class="b" x="563" y="303" width="32" height="30"/><rect class="b" x="595" y="303" width="9" height="10"/><rect class="b" x="595" y="313" width="9" height="10"/><rect class="b" x="595" y="323" width="9" height="10"/><text class="t" x="579" y="315.2">Compartiment<tspan x="579" dy="4">autorizații în</tspan><tspan x="579" dy="4">construcții</tspan></text><text class="n" x="599.5" y="319.3">8</text><text class="n" x="599.5" y="329.3">8</text></g>
<g id="serv-urbanism-planificare"><rect class="g" x="563" y="347" width="33" height="30"/><rect class="b" x="596" y="347" width="9" height="10"/><rect class="b" x="596" y="357" width="9" height="10"/><rect class="b" x="596" y="367" width="9" height="10"/><text class="t" x="579.5" y="359.2">Serviciul Urbanism,<tspan x="579.5" dy="4">planificare</tspan><tspan x="579.5" dy="4">strategică</tspan></text><text class="n" x="600.5" y="353.3">1</text><text class="n" x="600.5" y="363.3">14</text><text class="n" x="600.5" y="373.3">15</text></g>
<g id="comp-proiectare-urbana"><rect class="b" x="568" y="392" width="31" height="30"/><rect class="b" x="599" y="392" width="7" height="10"/><rect class="b" x="599" y="402" width="7" height="10"/><rect class="b" x="599" y="412" width="7" height="10"/><text class="t" style="font-size:2.8px" x="583.5" y="402.2">Compartiment<tspan x="583.5" dy="4">Proiectare și Modificare</tspan><tspan x="583.5" dy="4">Urbană,</tspan><tspan x="583.5" dy="4">documentații</tspan></text><text class="n" x="602.5" y="408.3">8</text><text class="n" x="602.5" y="418.3">8</text></g>
<g id="comp-autorizare-control"><rect class="b" x="568" y="436" width="31" height="30"/><rect class="b" x="599" y="436" width="7" height="10"/><rect class="b" x="599" y="446" width="7" height="10"/><rect class="b" x="599" y="456" width="7" height="10"/><text class="t" x="583.5" y="450.2">Compartiment<tspan x="583.5" dy="4">autorizare și control</tspan></text><text class="n" x="602.5" y="452.3">3</text><text class="n" x="602.5" y="462.3">3</text></g>
<g id="comp-gis"><rect class="b" x="568" y="481" width="31" height="30"/><rect class="b" x="599" y="481" width="7" height="10"/><rect class="b" x="599" y="491" width="7" height="10"/><rect class="b" x="599" y="501" width="7" height="10"/><text class="t" x="583.5" y="497.2">Compartiment GIS</text><text class="n" x="602.5" y="497.3">3</text><text class="n" x="602.5" y="507.3">3</text></g>

<!-- Transport -->
<g id="serv-transport-informare"><rect class="g" x="622" y="213" width="36" height="39"/><rect class="b" x="658" y="213" width="9" height="13"/><rect class="b" x="658" y="226" width="9" height="13"/><rect class="r" x="658" y="239" width="9" height="13"/><text class="t" x="640" y="231.7">Serviciul Transport și<tspan x="640" dy="4">Informare Cetățeni</tspan></text><text class="n" x="662.5" y="220.8">1</text><text class="n" x="662.5" y="233.8">14</text><text class="n" x="662.5" y="246.8">15</text></g>
<g id="sef-serviciu-transport"><rect class="b" x="622" y="266" width="36" height="18"/><rect class="b" x="658" y="266" width="9" height="18"/><text class="t2" x="640" y="276.2">Șef Serviciu</text><text class="n" x="662.5" y="276.3">1</text></g>
<g id="comp-informare-cetateni"><rect class="b" x="626" y="303" width="31" height="30"/><rect class="b" x="657" y="303" width="7" height="10"/><rect class="b" x="657" y="313" width="7" height="10"/><rect class="b" x="657" y="323" width="7" height="10"/><text class="t" x="641.5" y="317.2">Compartiment<tspan x="641.5" dy="4">Informare Cetățeni</tspan></text><text class="n" x="660.5" y="319.3">4</text><text class="n" x="660.5" y="329.3">4</text></g>
<g id="comp-dispecerat"><rect class="b" x="626" y="347" width="31" height="30"/><rect class="b" x="657" y="347" width="7" height="10"/><rect class="b" x="657" y="357" width="7" height="10"/><rect class="b" x="657" y="367" width="7" height="10"/><text class="t" x="641.5" y="361.2">Compartiment<tspan x="641.5" dy="4">Dispecerat</tspan></text><text class="n" x="660.5" y="363.3">4</text><text class="n" x="660.5" y="373.3">4</text></g>
<g id="comp-sesizari"><rect class="b" x="626" y="391" width="31" height="30"/><rect class="b" x="657" y="391" width="7" height="10"/><rect class="b" x="657" y="401" width="7" height="10"/><rect class="b" x="657" y="411" width="7" height="10"/><text class="t" style="font-size:2.7px" x="641.5" y="403.2">Compartiment sesizări,<tspan x="641.5" dy="4">tehnoredactare și</tspan><tspan x="641.5" dy="4">predare documente</tspan></text><text class="n" x="660.5" y="407.3">3</text><text class="n" x="660.5" y="417.3">3</text></g>
<g id="comp-taxare-mobilitate"><rect class="b" x="626" y="435" width="31" height="30"/><rect class="b" x="657" y="435" width="7" height="10"/><rect class="b" x="657" y="445" width="7" height="10"/><rect class="b" x="657" y="455" width="7" height="10"/><text class="t" style="font-size:2.7px" x="641.5" y="449.2">Compartiment Taxare,<tspan x="641.5" dy="4">Sport, Cultură și Mobilitate</tspan></text><text class="n" x="660.5" y="451.3">4</text><text class="n" x="660.5" y="461.3">4</text></g>

<!-- right column -->
<g id="cabinet-primar"><rect class="b" x="679" y="158" width="28" height="30"/><rect class="b" x="707" y="158" width="9" height="10"/><rect class="b" x="707" y="168" width="9" height="10"/><rect class="r" x="707" y="178" width="9" height="10"/><text class="t2" x="693" y="172">Cabinet<tspan x="693" dy="4.5">Primar</tspan></text><text class="n" x="711.5" y="174.3">4</text><text class="n" x="711.5" y="184.3">4</text></g>
<g id="comp-control-managerial"><rect class="b" x="679" y="202" width="28" height="36"/><rect class="b" x="707" y="202" width="9" height="12"/><rect class="b" x="707" y="214" width="9" height="12"/><rect class="r" x="707" y="226" width="9" height="12"/><text class="t" x="693" y="213.2">Compartiment<tspan x="693" dy="4">Control</tspan><tspan x="693" dy="4">Managerial și</tspan><tspan x="693" dy="4">Management</tspan><tspan x="693" dy="4">Calitate</tspan></text><text class="n" x="711.5" y="221.3">2</text><text class="n" x="711.5" y="233.3">2</text></g>
<g id="comp-relatii-presa"><rect class="b" x="679" y="250" width="28" height="33"/><rect class="b" x="707" y="250" width="9" height="11"/><rect class="b" x="707" y="261" width="9" height="11"/><rect class="r" x="707" y="272" width="9" height="11"/><text class="t2" x="693" y="263.2">Compartiment<tspan x="693" dy="4.3">pentru relații</tspan><tspan x="693" dy="4.3">cu presa</tspan></text><text class="n" x="711.5" y="267.8">2</text><text class="n" x="711.5" y="278.8">2</text></g>
<g id="comp-secretariat-audiente"><rect class="b" x="679" y="295" width="28" height="33"/><rect class="b" x="707" y="295" width="9" height="11"/><rect class="b" x="707" y="306" width="9" height="11"/><rect class="r" x="707" y="317" width="9" height="11"/><text class="t2" x="693" y="308.2">Compartiment<tspan x="693" dy="4.3">Secretariat</tspan><tspan x="693" dy="4.3">Audiențe</tspan></text><text class="n" x="711.5" y="312.8">3</text><text class="n" x="711.5" y="323.8">3</text></g>
<g id="comp-situatii-urgenta"><rect class="b" x="679" y="340" width="28" height="33"/><rect class="b" x="707" y="340" width="9" height="11"/><rect class="b" x="707" y="351" width="9" height="11"/><rect class="b" x="707" y="362" width="9" height="11"/><text class="t" x="693" y="351.7">Compartiment<tspan x="693" dy="4">Situații de</tspan><tspan x="693" dy="4">Urgență, PSI și</tspan><tspan x="693" dy="4">Protecție Civilă</tspan></text><text class="n" x="711.5" y="357.8">7</text><text class="n" x="711.5" y="368.8">7</text></g>
<g id="comp-prevenire-ssm"><rect class="b" x="679" y="387" width="28" height="33"/><rect class="b" x="707" y="387" width="9" height="11"/><rect class="b" x="707" y="398" width="9" height="11"/><rect class="b" x="707" y="409" width="9" height="11"/><text class="t" style="font-size:2.7px" x="693" y="400.7">Compartiment Valori<tspan x="693" dy="4">de Prevenire, SSM și</tspan><tspan x="693" dy="4">Protecția Muncii</tspan></text><text class="n" x="711.5" y="404.8">4</text><text class="n" x="711.5" y="415.8">4</text></g>
<g id="audit-public-intern"><rect class="b" x="679" y="440" width="28" height="33"/><rect class="b" x="707" y="440" width="9" height="11"/><rect class="b" x="707" y="451" width="9" height="11"/><rect class="r" x="707" y="462" width="9" height="11"/><text class="t" style="font-size:4.4px" x="693" y="455.3">Audit Public<tspan x="693" dy="5">Intern</tspan></text><text class="n" x="711.5" y="457.8">3</text><text class="n" x="711.5" y="468.8">3</text></g>
<g id="control-financiar-preventiv"><rect class="b" x="679" y="484" width="28" height="33"/><rect class="b" x="707" y="484" width="9" height="11"/><rect class="b" x="707" y="495" width="9" height="11"/><rect class="r" x="707" y="506" width="9" height="11"/><text class="t" style="font-size:4.2px" x="693" y="497.4">Control<tspan x="693" dy="4.6">Financiar</tspan><tspan x="693" dy="4.6">Preventiv</tspan></text><text class="n" x="711.5" y="501.8">5</text><text class="n" x="711.5" y="512.8">5</text></g>
<g id="serv-management-resurse-umane"><rect class="g" x="677" y="528" width="33" height="33"/><rect class="b" x="710" y="528" width="9" height="11"/><rect class="b" x="710" y="539" width="9" height="11"/><rect class="r" x="710" y="550" width="9" height="11"/><text class="t" style="font-size:2.8px" x="693.5" y="539.7">Serviciul<tspan x="693.5" dy="4">Management</tspan><tspan x="693.5" dy="4">Resurse Umane și</tspan><tspan x="693.5" dy="4">Formare Profesională</tspan></text><text class="n" x="714.5" y="534.8">1</text><text class="n" x="714.5" y="545.8">10</text><text class="n" x="714.5" y="556.8">11</text></g>

<g id="serv-monitorizare-servicii"><rect class="g" x="628" y="523" width="31" height="30"/><rect class="b" x="659" y="523" width="9" height="10"/><rect class="b" x="659" y="533" width="9" height="10"/><rect class="r" x="659" y="543" width="9" height="10"/><text class="t" x="643.5" y="535.2">Serviciul<tspan x="643.5" dy="4">Monitorizare</tspan><tspan x="643.5" dy="4">Servicii Comunitare</tspan></text><text class="n" x="663.5" y="529.3">1</text><text class="n" x="663.5" y="539.3">10</text><text class="n" x="663.5" y="549.3">11</text></g>
<g id="unitatea-municipala-monitorizare"><rect class="b" x="634" y="567" width="27" height="30"/><rect class="b" x="661" y="567" width="8" height="10"/><rect class="b" x="661" y="577" width="8" height="10"/><rect class="b" x="661" y="587" width="8" height="10"/><text class="t" style="font-size:2.7px" x="647.5" y="579.2">Unitatea Municipală<tspan x="647.5" dy="4">pentru Monitorizarea</tspan><tspan x="647.5" dy="4">Serviciilor Publice</tspan></text><text class="n" x="665" y="583.3">5</text><text class="n" x="665" y="593.3">5</text></g>
<g id="comp-asociatii-proprietari"><rect class="b" x="634" y="612" width="27" height="30"/><rect class="b" x="661" y="612" width="8" height="10"/><rect class="b" x="661" y="622" width="8" height="10"/><rect class="b" x="661" y="632" width="8" height="10"/><text class="t" x="647.5" y="624.2">Compartiment<tspan x="647.5" dy="4">Asociații de</tspan><tspan x="647.5" dy="4">Proprietari</tspan></text><text class="n" x="665" y="628.3">4</text><text class="n" x="665" y="638.3">4</text></g>
<g id="comp-inspectie"><rect class="b" x="634" y="657" width="27" height="30"/><rect class="b" x="661" y="657" width="8" height="10"/><rect class="b" x="661" y="667" width="8" height="10"/><rect class="b" x="661" y="677" width="8" height="10"/><text class="t" x="647.5" y="671.2">Compartiment<tspan x="647.5" dy="4">Inspecție sanitară</tspan></text><text class="n" x="665" y="673.3">4</text><text class="n" x="665" y="683.3">4</text></g>
<g id="comp-invatamant-cultura"><rect class="b" x="634" y="702" width="27" height="30"/><rect class="b" x="661" y="702" width="8" height="10"/><rect class="b" x="661" y="712" width="8" height="10"/><rect class="b" x="661" y="722" width="8" height="10"/><text class="t" x="647.5" y="712.2">Compartiment<tspan x="647.5" dy="4">Învățământ,</tspan><tspan x="647.5" dy="4">Cultură,</tspan><tspan x="647.5" dy="4">Sănătate</tspan></text><text class="n" x="665" y="718.3">5</text><text class="n" x="665" y="728.3">5</text></g>

<!-- bottom structures -->
<g id="structuri-personalitate-juridica"><rect class="b" x="34" y="880" width="25" height="45" style="stroke-width:1"/><text class="t" x="46.5" y="899.7">Structuri cu<tspan x="46.5" dy="4">Personalitate</tspan><tspan x="46.5" dy="4">Juridică</tspan></text></g>
<g id="das"><rect class="g" x="68" y="889" width="30" height="34"/><text class="t" x="83" y="903.2">Direcția<tspan x="83" dy="4">de Asistență</tspan><tspan x="83" dy="4">Socială</tspan></text></g>
<g id="centrul-varstnici"><rect class="g" x="104" y="889" width="30" height="34"/><text class="t" x="119" y="903.2">Centrul pentru<tspan x="119" dy="4">persoane</tspan><tspan x="119" dy="4">vârstnice Bacău</tspan></text></g>
<g id="spitalul"><rect class="g" x="141" y="889" width="30" height="34"/><text class="t" style="font-size:2.8px" x="156" y="905.2">Spitalul de<tspan x="156" dy="4">Pneumoftiziologie</tspan></text></g>
<g id="teatrul"><rect class="g" x="178" y="889" width="30" height="34"/><text class="t" x="193" y="905.2">Teatrul Municipal<tspan x="193" dy="4">Bacovia</tspan></text></g>
<g id="filarmonica"><rect class="g" x="215" y="889" width="30" height="34"/><text class="t" x="230" y="903.2">Filarmonica<tspan x="230" dy="4">Mihail Jora</tspan><tspan x="230" dy="4">Bacău</tspan></text></g>
<g id="salp"><rect class="g" x="252" y="889" width="30" height="34"/><text class="t2" x="267" y="907.3">SALP</text></g>
<g id="club-sportiv"><rect class="g" x="288" y="889" width="30" height="34"/><text class="t" x="303" y="905.2">Club Sportiv<tspan x="303" dy="4">Municipal Bacău</tspan></text></g>

<!-- signatures -->
<g id="semnatura-presedinte">
<text transform="translate(168 684) scale(0.66 1)" x="0" y="0" class="sf" font-size="9.5">PREȘEDINTE DE ȘEDINȚĂ</text>
<text transform="translate(168 697) scale(0.66 1)" x="0" y="0" class="sf" font-size="9.5">GHIORGHE HULUȚĂ</text>
<circle cx="170" cy="732" r="36" fill="none" stroke="#c3cdeb" stroke-width="1.4"/>
<circle cx="170" cy="732" r="28" fill="none" stroke="#d3dbf0" stroke-width="1"/>
<path d="M133 778C138 765 144 752 148 742C150 737 152 733 150 734C146 738 141 748 146 749C150 750 152 744 154 740M156 744C160 744 165 743 170 744M176 753C180 742 184 732 186 728C185 740 184 748 188 748C190 742 192 738 194 736C194 744 194 750 197 748C199 744 200 740 201 738" fill="none" stroke="#3b3fb0" stroke-width="1.1"/>
</g>
<g id="contrasemneaza">
<text transform="translate(328 684) scale(0.86 1)" x="0" y="0" class="sf" font-size="9.5">CONTRASEMNEAZĂ PENTRU LEGALITATE</text>
<text transform="translate(328 697) scale(0.8 1)" x="0" y="0" class="sf" font-size="9.5">SECRETARUL GENERAL AL MUN. BACĂU</text>
<text transform="translate(328 710) scale(0.8 1)" x="0" y="0" class="sf" font-size="9.5">NICOLAE-OVIDIU POPOVICI</text>
</g>
<g id="intocmit">
<text x="467" y="909" font-family="Liberation Sans, Arial, sans-serif" font-size="8" fill="#333">Întocmit</text>
<text transform="translate(452 922) scale(0.85 1)" x="0" y="0" font-family="Liberation Sans, Arial, sans-serif" font-size="8" fill="#333">Serviciul M.R.U.F.P.</text>
<path d="M483 925C480 940 478 955 484 975C486 960 490 948 494 940C494 952 496 962 500 966" fill="none" stroke="#3b3fb0" stroke-width="1"/>
</g>

<!-- table -->
<g id="tabel-structura-personal">
<rect x="552" y="754" width="168" height="206" fill="#fff" stroke="#333" stroke-width="1"/>
<path class="c" d="M623 754V960M648 754V960M684 754V960M552 790H720M552 813H720M552 838H720M552 862H720M552 885H720M552 909H720M552 933H720"/>
<text class="t" style="font-size:3.4px" x="587.5" y="773">Structură personal</text>
<text class="t" style="font-size:3.4px" x="635.5" y="773">Primărie</text>
<text class="t" style="font-size:3.4px" x="666" y="768">Direcția Publică<tspan x="666" dy="4.3">de Evidență a</tspan><tspan x="666" dy="4.3">Persoanelor</tspan></text>
<text class="t" style="font-size:3.4px" x="702" y="773">Total</text>
<text class="t" style="font-size:3.4px" x="587.5" y="802.6">Demnitari</text>
<text class="t" style="font-size:3.4px" x="635.5" y="802.6">3</text><text class="t" style="font-size:3.4px" x="666" y="802.6">0</text><text class="t" style="font-size:3.4px" x="702" y="802.6">3</text>
<text class="t" x="587.5" y="824.5">Nr. total de funcții publice de<tspan x="587.5" dy="4">conducere</tspan></text>
<text class="t" style="font-size:3.4px" x="635.5" y="826.6">26</text><text class="t" style="font-size:3.4px" x="666" y="826.6">4</text><text class="t" style="font-size:3.4px" x="702" y="826.6">30</text>
<text class="t" style="font-size:2.9px" x="587.5" y="851">Nr. total de funcții publice de execuție</text>
<text class="t" style="font-size:3.4px" x="635.5" y="851.1">223</text><text class="t" style="font-size:3.4px" x="666" y="851.1">34</text><text class="t" style="font-size:3.4px" x="702" y="851.1">257</text>
<text class="t" x="587.5" y="874.6">Nr. total de funcții publice</text>
<text class="t" style="font-size:3.4px" x="635.5" y="874.6">249</text><text class="t" style="font-size:3.4px" x="666" y="874.6">38</text><text class="t" style="font-size:3.4px" x="702" y="874.6">287</text>
<text class="t" x="587.5" y="896.1">Nr. total de funcții contractuale de<tspan x="587.5" dy="4">conducere</tspan></text>
<text class="t" style="font-size:3.4px" x="635.5" y="898.1">10</text><text class="t" style="font-size:3.4px" x="666" y="898.1">0</text><text class="t" style="font-size:3.4px" x="702" y="898.1">10</text>
<text class="t" x="587.5" y="920.1">Nr. total de funcții contractuale de<tspan x="587.5" dy="4">execuție</tspan></text>
<text class="t" style="font-size:3.4px" x="635.5" y="922.1">278</text><text class="t" style="font-size:3.4px" x="666" y="922.1">2</text><text class="t" style="font-size:3.4px" x="702" y="922.1">280</text>
<text class="t" x="587.5" y="945.6">Nr. total de posturi din cadrul<tspan x="587.5" dy="4">aparatului instituției publice</tspan></text>
<text class="t" style="font-size:3.4px" x="635.5" y="947.6">540</text><text class="t" style="font-size:3.4px" x="666" y="947.6">40</text><text class="t" style="font-size:3.4px" x="702" y="947.6">580</text>
</g>
<text x="742" y="960" font-family="Liberation Sans, Arial, sans-serif" font-size="20" fill="#aaa">19</text>
<rect x="0" y="1010" width="768" height="3" fill="#e6e6e6"/>
</svg>
